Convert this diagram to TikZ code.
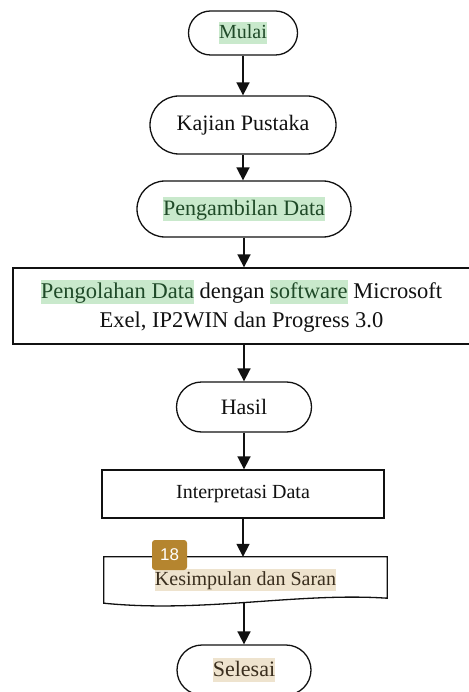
\documentclass[tikz,border=0pt]{standalone}
\usepackage{fontspec}
\setmainfont{Liberation Serif}
\newfontfamily\badgefont{Liberation Sans}
\usetikzlibrary{shapes.misc,arrows.meta}

\definecolor{hlgreen}{HTML}{C9E9CC}
\definecolor{hlgreentext}{HTML}{1F4A28}
\definecolor{hltan}{HTML}{EEE3CE}
\definecolor{hltantext}{HTML}{3A2E1E}
\definecolor{badgefill}{HTML}{B5852F}
\definecolor{ink}{HTML}{111111}

% text highlighted like a marker pen
\newcommand{\hlmark}[3]{{\setlength{\fboxsep}{0pt}\colorbox{#1}{\color{#2}\rule[-0.25em]{0pt}{1.07em}#3}}}
\newcommand{\hlg}[1]{\hlmark{hlgreen}{hlgreentext}{#1}}
\newcommand{\hlt}[1]{\hlmark{hltan}{hltantext}{#1}}

\tikzset{
  terminal/.style={draw=ink, line width=1.3pt, rounded rectangle, fill=white,
    text=ink, inner sep=0pt},
  procbox/.style={draw=ink, line width=1.3pt, rectangle, fill=white,
    text=ink, inner sep=0pt},
  flow/.style={draw=ink, line width=1.7pt, -{Triangle[length=13pt,width=13pt]}},
  badge/.style={fill=badgefill, rounded corners=3pt, text=white,
    font=\badgefont\fontsize{17}{20}\selectfont, inner sep=0pt,
    minimum width=35pt, minimum height=30pt},
}

\begin{document}
\begin{tikzpicture}[x=1pt,y=1pt]
\useasboundingbox (0,0) rectangle (468,-692);
\fill[white] (0,0) rectangle (468,-692);

\node[terminal, minimum width=109pt, minimum height=44pt,
  font=\fontsize{20}{24}\selectfont] (mulai) at (243,-33) {\hlg{Mulai}};

\node[terminal, minimum width=186pt, minimum height=58pt,
  font=\fontsize{22}{26}\selectfont] (kajian) at (243,-125) {Kajian Pustaka};

\node[terminal, minimum width=214pt, minimum height=56pt,
  font=\fontsize{22}{26}\selectfont] (ambil) at (244,-209) {\hlg{Pengambilan Data}};

\node[procbox, minimum width=457pt, minimum height=76pt, align=center,
  font=\fontsize{22.5}{29}\selectfont] (olah) at (241.5,-306)
  {\hlg{Pengolahan Data} dengan \hlg{software} Microsoft\\Exel, IP2WIN dan Progress 3.0};

\node[terminal, minimum width=135pt, minimum height=50pt,
  font=\fontsize{22}{26}\selectfont] (hasil) at (244,-407) {Hasil};

\node[procbox, minimum width=282pt, minimum height=48pt,
  font=\fontsize{20}{24}\selectfont] (interp) at (243,-494) {Interpretasi Data};

% document shape with a wavy lower edge
\node[minimum width=283pt, minimum height=46pt, inner sep=0pt, text=ink,
  font=\fontsize{20}{24}\selectfont] (simpul) at (245.5,-580) {\hlt{Kesimpulan dan Saran}};
\draw[draw=ink, line width=1.3pt]
  (simpul.south west) -- (simpul.north west) -- (simpul.north east)
  -- ([yshift=5pt]simpul.south east)
  .. controls +(-90,6) and +(100,-10) .. (simpul.south west) -- cycle;
\coordinate (simpulbot) at (244,-603);

\node[terminal, minimum width=134pt, minimum height=50pt,
  font=\fontsize{22}{26}\selectfont] (selesai) at (244,-670) {\hlt{Selesai}};

\node[badge] (hal) at (169.5,-555) {18};

\draw[flow] (mulai.south) -- (kajian.north);
\draw[flow] (kajian.south) -- (kajian.south |- ambil.north);
\draw[flow] (ambil.south) -- (olah.north -| ambil.south);
\draw[flow] (olah.south -| hasil.north) -- (hasil.north);
\draw[flow] (hasil.south) -- (interp.north -| hasil.south);
\draw[flow] (interp.south) -- (simpul.north -| interp.south);
\draw[flow] (simpulbot) -- (selesai.north);
\end{tikzpicture}
\end{document}
